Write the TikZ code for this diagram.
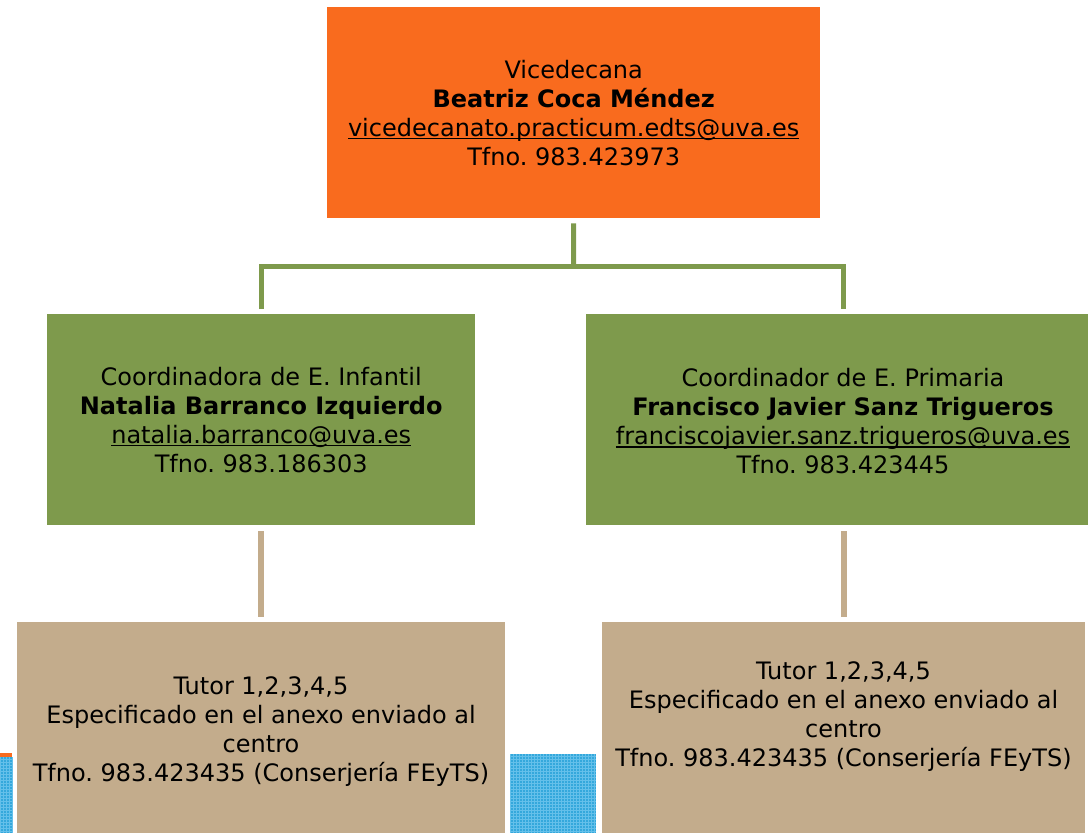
\documentclass[tikz,border=0pt]{standalone}
\usepackage{fontspec}
\setmainfont{DejaVu Sans}
\frenchspacing
\definecolor{orng}{RGB}{249,107,30}
\definecolor{grn}{RGB}{126,154,76}
\definecolor{tan}{RGB}{195,172,140}
\definecolor{bluep}{RGB}{52,168,220}
\definecolor{bluel}{RGB}{100,192,234}
\newcommand\myul[1]{\setbox0\hbox{#1}\rlap{\rule[-3.2pt]{\wd0}{1.6pt}}\box0}
\tikzset{
  box/.style={rectangle, inner sep=0pt, anchor=north west, align=center, text=black,
    font=\fontsize{24}{29}\selectfont},
  txt/.style={inner sep=0pt, align=center, text=black, font=\fontsize{24}{29}\selectfont},
  gline/.style={draw=grn, line width=5pt},
  tline/.style={draw=tan, line width=6pt},
}
\begin{document}
\begin{tikzpicture}[x=1pt,y=-1pt]
\useasboundingbox (0,0) rectangle (1088,833);
\clip (0,0) rectangle (1088,833);
% top box
\node[box, fill=orng, minimum width=493pt, minimum height=211pt] (top) at (327,7)
 {Vicedecana\\\textbf{Beatriz Coca Méndez}\\\myul{vicedecanato.practicum.edts@uva.es}\\Tfno. 983.423973};
% green boxes
\node[box, fill=grn, minimum width=428pt, minimum height=211pt] (gl) at (47,314)
 {Coordinadora de E. Infantil\\\textbf{Natalia Barranco Izquierdo}\\\myul{natalia.barranco@uva.es}\\Tfno. 983.186303};
\node[box, fill=grn, minimum width=514pt, minimum height=211pt] (gr) at (586,314) {};
\node[txt] (grt) at (843,421) {Coordinador de E. Primaria\\\textbf{Francisco Javier Sanz Trigueros}\\\myul{franciscojavier.sanz.trigueros@uva.es}\\Tfno. 983.423445};
% tan boxes
\node[box, fill=tan, minimum width=488pt, minimum height=220pt] (tl) at (17,622) {};
\node[box, fill=tan, minimum width=483pt, minimum height=220pt] (tr) at (602,622) {};
\node[txt] (tlt) at (261,732) {Tutor 1,2,3,4,5\\Especificado en el anexo enviado al\\centro\\Tfno. 983.423435 (Conserjería FEyTS)};
\node[txt] (trt) at (843.5,717) {Tutor 1,2,3,4,5\\Especificado en el anexo enviado al\\centro\\Tfno. 983.423435 (Conserjería FEyTS)};
% green connectors
\coordinate (j) at (573.5,266);
\draw[gline] ([yshift=-5pt]top.south) -- (j);
\draw[gline] ([yshift=5pt]gl.north) |- (j) -| ([yshift=5pt]tr.north |- gr.north);
% tan connectors
\draw[tline] ([yshift=-6pt]gl.south) -- ([yshift=5pt]tl.north);
\draw[tline] ([yshift=-6pt]tr.north |- gr.south) -- ([yshift=5pt]tr.north);
% decorative blue patches
\fill[bluep] (510,754) rectangle (596,840);
\draw[bluel, line width=0.8pt, step=3pt] (510,754) grid (596,840);
\fill[bluep] (0,753) rectangle (12,840);
\draw[bluel, line width=0.8pt, step=3pt] (0,757) grid (12,840);
\fill[orng] (0,753) rectangle (12,757);
\end{tikzpicture}
\end{document}
